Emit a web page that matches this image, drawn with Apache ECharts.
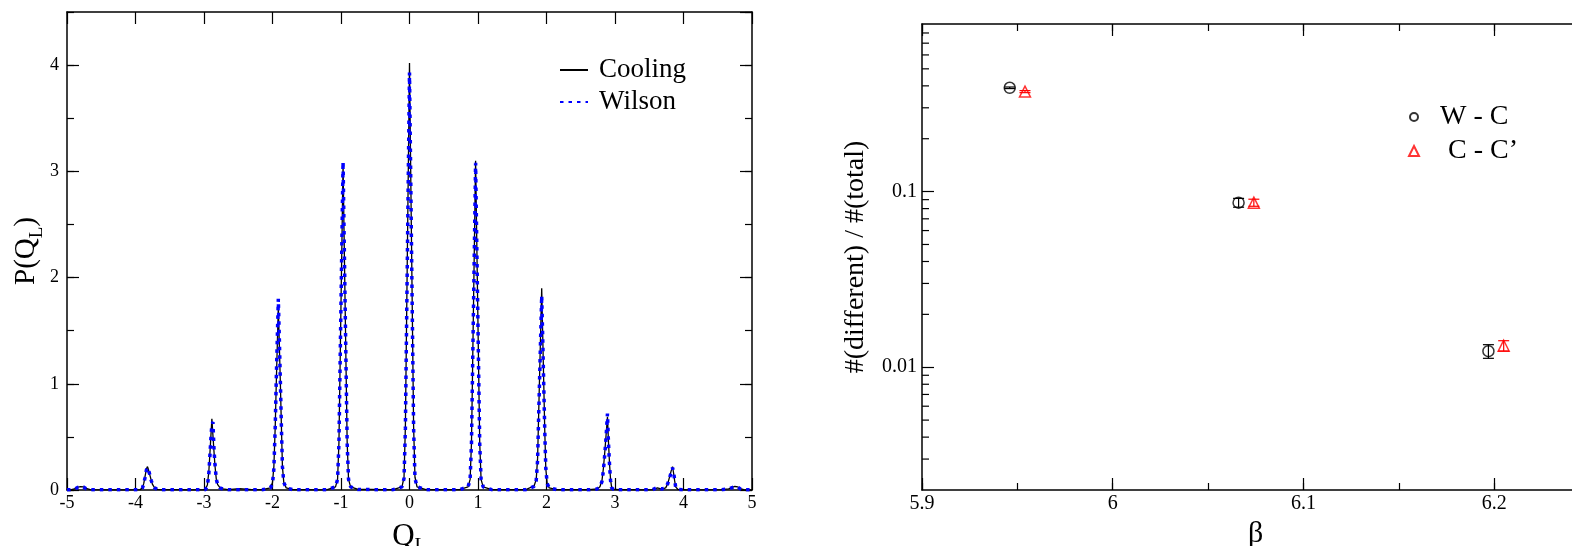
<!DOCTYPE html>
<html><head><meta charset="utf-8">
<script src="https://cdn.jsdelivr.net/npm/echarts@6/dist/echarts.min.js"></script>
<style>html,body{margin:0;padding:0;background:#fff}#c{width:1572px;height:546px}</style>
</head><body><div id="c"></div>
<script>
// ---------- Left panel: P(Q_L) histograms ----------
const qL = [
 -5.00,-4.95,-4.88,-4.84,-4.80,-4.76,-4.72,-4.66,-4.40,
 -4.10,-3.93,-3.90,-3.88,-3.86,-3.84,-3.825,-3.81,-3.79,-3.77,-3.75,-3.72,-3.68,-3.60,
 -3.40,
 -3.20,-2.98,-2.95,-2.93,-2.915,-2.90,-2.885,-2.87,-2.855,-2.84,-2.82,-2.80,-2.77,-2.72,-2.65,
 -2.48,-2.30,
 -2.15,-2.03,-2.00,-1.98,-1.96,-1.945,-1.93,-1.915,-1.90,-1.885,-1.87,-1.855,-1.835,-1.80,-1.70,
 -1.50,-1.35,
 -1.20,-1.08,-1.05,-1.03,-1.015,-1.00,-0.985,-0.97,-0.955,-0.94,-0.925,-0.91,-0.89,-0.86,-0.75,
 -0.55,-0.40,
 -0.24,-0.11,-0.08,-0.06,-0.045,-0.03,-0.015,0,0.015,0.03,0.045,0.06,0.08,0.11,0.24,
 0.40,0.55,
 0.73,0.855,0.885,0.905,0.92,0.935,0.95,0.965,0.98,0.995,1.01,1.025,1.045,1.075,1.20,
 1.40,1.55,
 1.70,1.82,1.85,1.87,1.885,1.90,1.915,1.93,1.945,1.96,1.975,1.99,2.01,2.04,2.15,
 2.35,2.50,
 2.62,2.74,2.78,2.81,2.83,2.85,2.87,2.89,2.905,2.92,2.935,2.95,2.98,3.05,
 3.25,3.40,
 3.55,3.62,3.68,3.74,3.77,3.80,3.82,3.84,3.855,3.87,3.885,3.92,4.05,
 4.30,
 4.55,4.66,4.71,4.75,4.79,4.83,4.88,5.00
];
const pCooling = [
 0.003,0.002,0.012,0.028,0.032,0.03,0.015,0.003,0.002,
 0.002,0.004,0.02,0.06,0.13,0.2,0.22,0.19,0.14,0.09,0.05,0.02,0.006,0.003,
 0.003,
 0.002,0.004,0.05,0.17,0.33,0.5,0.67,0.52,0.37,0.23,0.1,0.05,0.025,0.01,0.004,
 0.012,0.003,
 0.003,0.02,0.07,0.22,0.6,1.0,1.36,1.72,1.36,1.0,0.6,0.22,0.07,0.02,0.004,
 0.004,0.002,
 0.004,0.03,0.1,0.45,1.1,1.75,2.4,3.06,2.4,1.75,1.1,0.45,0.1,0.03,0.005,
 0.005,0.003,
 0.004,0.03,0.12,0.6,1.45,2.3,3.15,4.02,3.15,2.3,1.45,0.6,0.12,0.03,0.004,
 0.003,0.004,
 0.004,0.03,0.1,0.45,1.1,1.77,2.43,3.10,2.43,1.77,1.1,0.45,0.1,0.03,0.004,
 0.004,0.003,
 0.004,0.04,0.1,0.3,0.7,1.1,1.5,1.90,1.45,1.0,0.55,0.2,0.06,0.02,0.004,
 0.003,0.004,
 0.003,0.01,0.03,0.09,0.2,0.35,0.52,0.69,0.45,0.25,0.1,0.03,0.008,0.003,
 0.003,0.002,
 0.004,0.02,0.008,0.02,0.06,0.13,0.18,0.22,0.16,0.09,0.03,0.005,0.002,
 0.002,
 0.003,0.01,0.025,0.033,0.03,0.012,0.003,0.002
];
const pWilson = [
 0.002,0.002,0.01,0.025,0.03,0.028,0.012,0.002,0.002,
 0.002,0.003,0.018,0.055,0.12,0.19,0.21,0.19,0.14,0.09,0.05,0.02,0.005,0.002,
 0.002,
 0.002,0.003,0.04,0.15,0.31,0.48,0.62,0.64,0.4,0.24,0.1,0.05,0.02,0.008,0.003,
 0.003,0.002,
 0.002,0.02,0.06,0.2,0.6,1.04,1.42,1.80,1.42,1.02,0.6,0.22,0.07,0.02,0.003,
 0.003,0.002,
 0.003,0.03,0.1,0.44,1.1,1.76,2.42,3.09,2.42,1.76,1.1,0.44,0.1,0.03,0.004,
 0.004,0.002,
 0.003,0.03,0.11,0.58,1.42,2.25,3.1,3.93,3.1,2.25,1.42,0.58,0.11,0.03,0.003,
 0.002,0.003,
 0.003,0.03,0.1,0.44,1.09,1.75,2.4,3.08,2.4,1.75,1.09,0.44,0.1,0.03,0.003,
 0.003,0.002,
 0.003,0.035,0.09,0.28,0.68,1.06,1.45,1.83,1.42,0.98,0.55,0.2,0.06,0.02,0.003,
 0.002,0.003,
 0.002,0.01,0.03,0.08,0.18,0.33,0.5,0.72,0.44,0.24,0.09,0.02,0.006,0.002,
 0.002,0.002,
 0.003,0.025,0.01,0.02,0.06,0.12,0.17,0.21,0.17,0.1,0.03,0.004,0.002,
 0.002,
 0.002,0.01,0.022,0.03,0.028,0.01,0.002,0.002
];

// ---------- Right panel: fraction of different configurations ----------
const betaWC = [5.946, 6.066, 6.197];
const fracWC = [0.39, 0.0865, 0.01234];
const errWC  = [0.004, 0.005, 0.0011];
const betaCC = [5.954, 6.074, 6.205];
const fracCC = [0.371, 0.0865, 0.01326];
const errCC  = [0.005, 0.004, 0.0009];
// log-axis minor tick values (2..9 x decade)
const logMinorTicks = [0.003,0.004,0.005,0.006,0.007,0.008,0.009,
  0.02,0.03,0.04,0.05,0.06,0.07,0.08,0.09,
  0.2,0.3,0.4,0.5,0.6,0.7,0.8];

const FONT = '"Liberation Serif", "Times New Roman", serif';
const zip = (a, b) => a.map((v, i) => [v, b[i]]);
const zip3 = (a, b, c) => a.map((v, i) => [v, b[i], c[i]]);

function ax(o) {
  return Object.assign({
    type: 'value',
    splitLine: { show: false },
    axisLine: { show: true, onZero: false, lineStyle: { color: '#000', width: 1.5 } },
    axisTick: { show: true, inside: true, length: 12, lineStyle: { color: '#000', width: 1.2 } },
    axisLabel: { show: false },
    axisPointer: { show: false }
  }, o);
}
const lbl = (margin, size) => ({ show: true, color: '#000', fontFamily: FONT, fontSize: size, margin: margin });
const minorTick = { show: true, inside: true, length: 7, lineStyle: { color: '#000', width: 1.2 } };
const noLine = { show: false, onZero: false };

function errBar(color) {
  return function (params, api) {
    const x = api.value(0), y = api.value(1), e = api.value(2);
    const t = api.coord([x, y + e]), b = api.coord([x, y - e]);
    const w = 5.5, st = { stroke: color, lineWidth: 1.2 };
    return { type: 'group', children: [
      { type: 'line', shape: { x1: t[0], y1: t[1], x2: b[0], y2: b[1] }, style: st },
      { type: 'line', shape: { x1: t[0] - w, y1: t[1], x2: t[0] + w, y2: t[1] }, style: st },
      { type: 'line', shape: { x1: b[0] - w, y1: b[1], x2: b[0] + w, y2: b[1] }, style: st }
    ]};
  };
}

const chart = echarts.init(document.getElementById('c'), null, { renderer: 'canvas' });
chart.setOption({
  animation: false,
  backgroundColor: '#fff',
  grid: [
    { left: 67, top: 12, width: 685, height: 478, containLabel: false, outerBoundsMode: 'none' },
    { left: 922, top: 24, width: 667.5, height: 466, containLabel: false, outerBoundsMode: 'none' }
  ],
  legend: [
    { orient: 'vertical', left: 554, top: 49, itemWidth: 28, itemHeight: 12, itemGap: 0,
      data: ['Cooling', 'Wilson'],
      itemStyle: { opacity: 0 },
      textStyle: { fontFamily: FONT, fontSize: 27, color: '#000', lineHeight: 32, padding: [0, 0, 0, 6] } },
    { orient: 'vertical', left: 1404, top: 97, itemWidth: 8, itemHeight: 8,
      data: ['W - C'],
      textStyle: { fontFamily: FONT, fontSize: 28, color: '#000', lineHeight: 30, padding: [0, 0, 0, 17] } },
    { orient: 'vertical', left: 1403, top: 131, itemWidth: 10, itemHeight: 10,
      data: ['C - C\u2019'],
      textStyle: { fontFamily: FONT, fontSize: 28, color: '#000', lineHeight: 30, padding: [0, 0, 0, 24] } }
  ],
  xAxis: [
    ax({ gridIndex: 0, position: 'bottom', min: -5, max: 5, interval: 1, axisLabel: lbl(4, 18),
         name: 'Q{s|L}', nameLocation: 'middle', nameGap: 14,
         nameTextStyle: { fontFamily: FONT, fontSize: 31, color: '#000', lineHeight: 40,
           rich: { s: { fontFamily: FONT, fontSize: 20, color: '#000', verticalAlign: 'bottom', lineHeight: 20 } } } }),
    ax({ gridIndex: 0, position: 'top', min: -5, max: 5, interval: 1 }),
    ax({ gridIndex: 1, position: 'bottom', min: 5.9, max: 6.25, interval: 0.1,
         axisLabel: Object.assign(lbl(4, 20), { showMaxLabel: false }),
         name: '\u03b2', nameLocation: 'middle', nameGap: 16,
         nameTextStyle: { fontFamily: FONT, fontSize: 30, color: '#000' } }),
    ax({ gridIndex: 1, position: 'bottom', min: 5.9, max: 6.25, interval: 0.05, axisLine: noLine, axisTick: minorTick }),
    ax({ gridIndex: 1, position: 'top', min: 5.9, max: 6.25, interval: 0.1 }),
    ax({ gridIndex: 1, position: 'top', min: 5.9, max: 6.25, interval: 0.05, axisLine: noLine, axisTick: minorTick })
  ],
  yAxis: [
    ax({ gridIndex: 0, position: 'left', min: 0, max: 4.5, interval: 1,
         axisLabel: Object.assign(lbl(8, 18), { showMaxLabel: false }),
         name: 'P(Q{s|L})', nameLocation: 'middle', nameGap: 20,
         nameTextStyle: { fontFamily: FONT, fontSize: 29, color: '#000', lineHeight: 40,
           rich: { s: { fontFamily: FONT, fontSize: 19, color: '#000', verticalAlign: 'bottom', lineHeight: 19 } } } }),
    ax({ gridIndex: 0, position: 'left', min: 0, max: 4.5, interval: 0.5, axisLine: noLine, axisTick: minorTick }),
    ax({ gridIndex: 0, position: 'right', min: 0, max: 4.5, interval: 1 }),
    ax({ gridIndex: 0, position: 'right', min: 0, max: 4.5, interval: 0.5, axisLine: noLine, axisTick: minorTick }),
    ax({ gridIndex: 1, type: 'log', logBase: 10, position: 'left', min: 0.002, max: 0.9,
         axisLabel: Object.assign(lbl(5, 20), { showMaxLabel: false, showMinLabel: false }),
         minorTick: { show: false },
         name: '#(different) / #(total)', nameLocation: 'middle', nameGap: 52,
         nameTextStyle: { fontFamily: FONT, fontSize: 28, color: '#000' } })
  ],
  series: [
    { name: 'Cooling', type: 'line', xAxisIndex: 0, yAxisIndex: 0, data: zip(qL, pCooling),
      showSymbol: false, symbol: 'none', lineStyle: { color: '#000', width: 1.3 }, itemStyle: { color: '#000' } },
    { name: 'Wilson', type: 'line', xAxisIndex: 0, yAxisIndex: 0, data: zip(qL, pWilson),
      showSymbol: false, symbol: 'none', lineStyle: { color: '#0000ff', width: 3.5, type: [3.5, 5], cap: 'butt' },
      itemStyle: { color: '#0000ff' } },
    { name: 'logMinor', type: 'custom', xAxisIndex: 2, yAxisIndex: 4, data: logMinorTicks.map(v => [5.9, v]),
      silent: true, clip: false,
      renderItem: function (params, api) {
        const p = api.coord([api.value(0), api.value(1)]);
        return { type: 'line', shape: { x1: p[0], y1: p[1], x2: p[0] + 7, y2: p[1] },
                 style: { stroke: '#000', lineWidth: 1.2 } };
      } },
    { name: 'errWC', type: 'custom', xAxisIndex: 2, yAxisIndex: 4, data: zip3(betaWC, fracWC, errWC),
      encode: { x: 0, y: 1 }, silent: true, renderItem: errBar('#000') },
    { name: 'errCC', type: 'custom', xAxisIndex: 2, yAxisIndex: 4, data: zip3(betaCC, fracCC, errCC),
      encode: { x: 0, y: 1 }, silent: true, renderItem: errBar('#ff0000') },
    { name: 'W - C', type: 'scatter', xAxisIndex: 2, yAxisIndex: 4, data: zip(betaWC, fracWC),
      symbol: 'circle', symbolSize: 11,
      itemStyle: { color: 'rgba(0,0,0,0)', borderColor: '#000', borderWidth: 1.5 } },
    { name: 'C - C\u2019', type: 'scatter', xAxisIndex: 2, yAxisIndex: 4, data: zip(betaCC, fracCC),
      symbol: 'triangle', symbolSize: 11,
      itemStyle: { color: 'rgba(0,0,0,0)', borderColor: '#ff0000', borderWidth: 1.5 } }
  ]
});
</script></body></html>
